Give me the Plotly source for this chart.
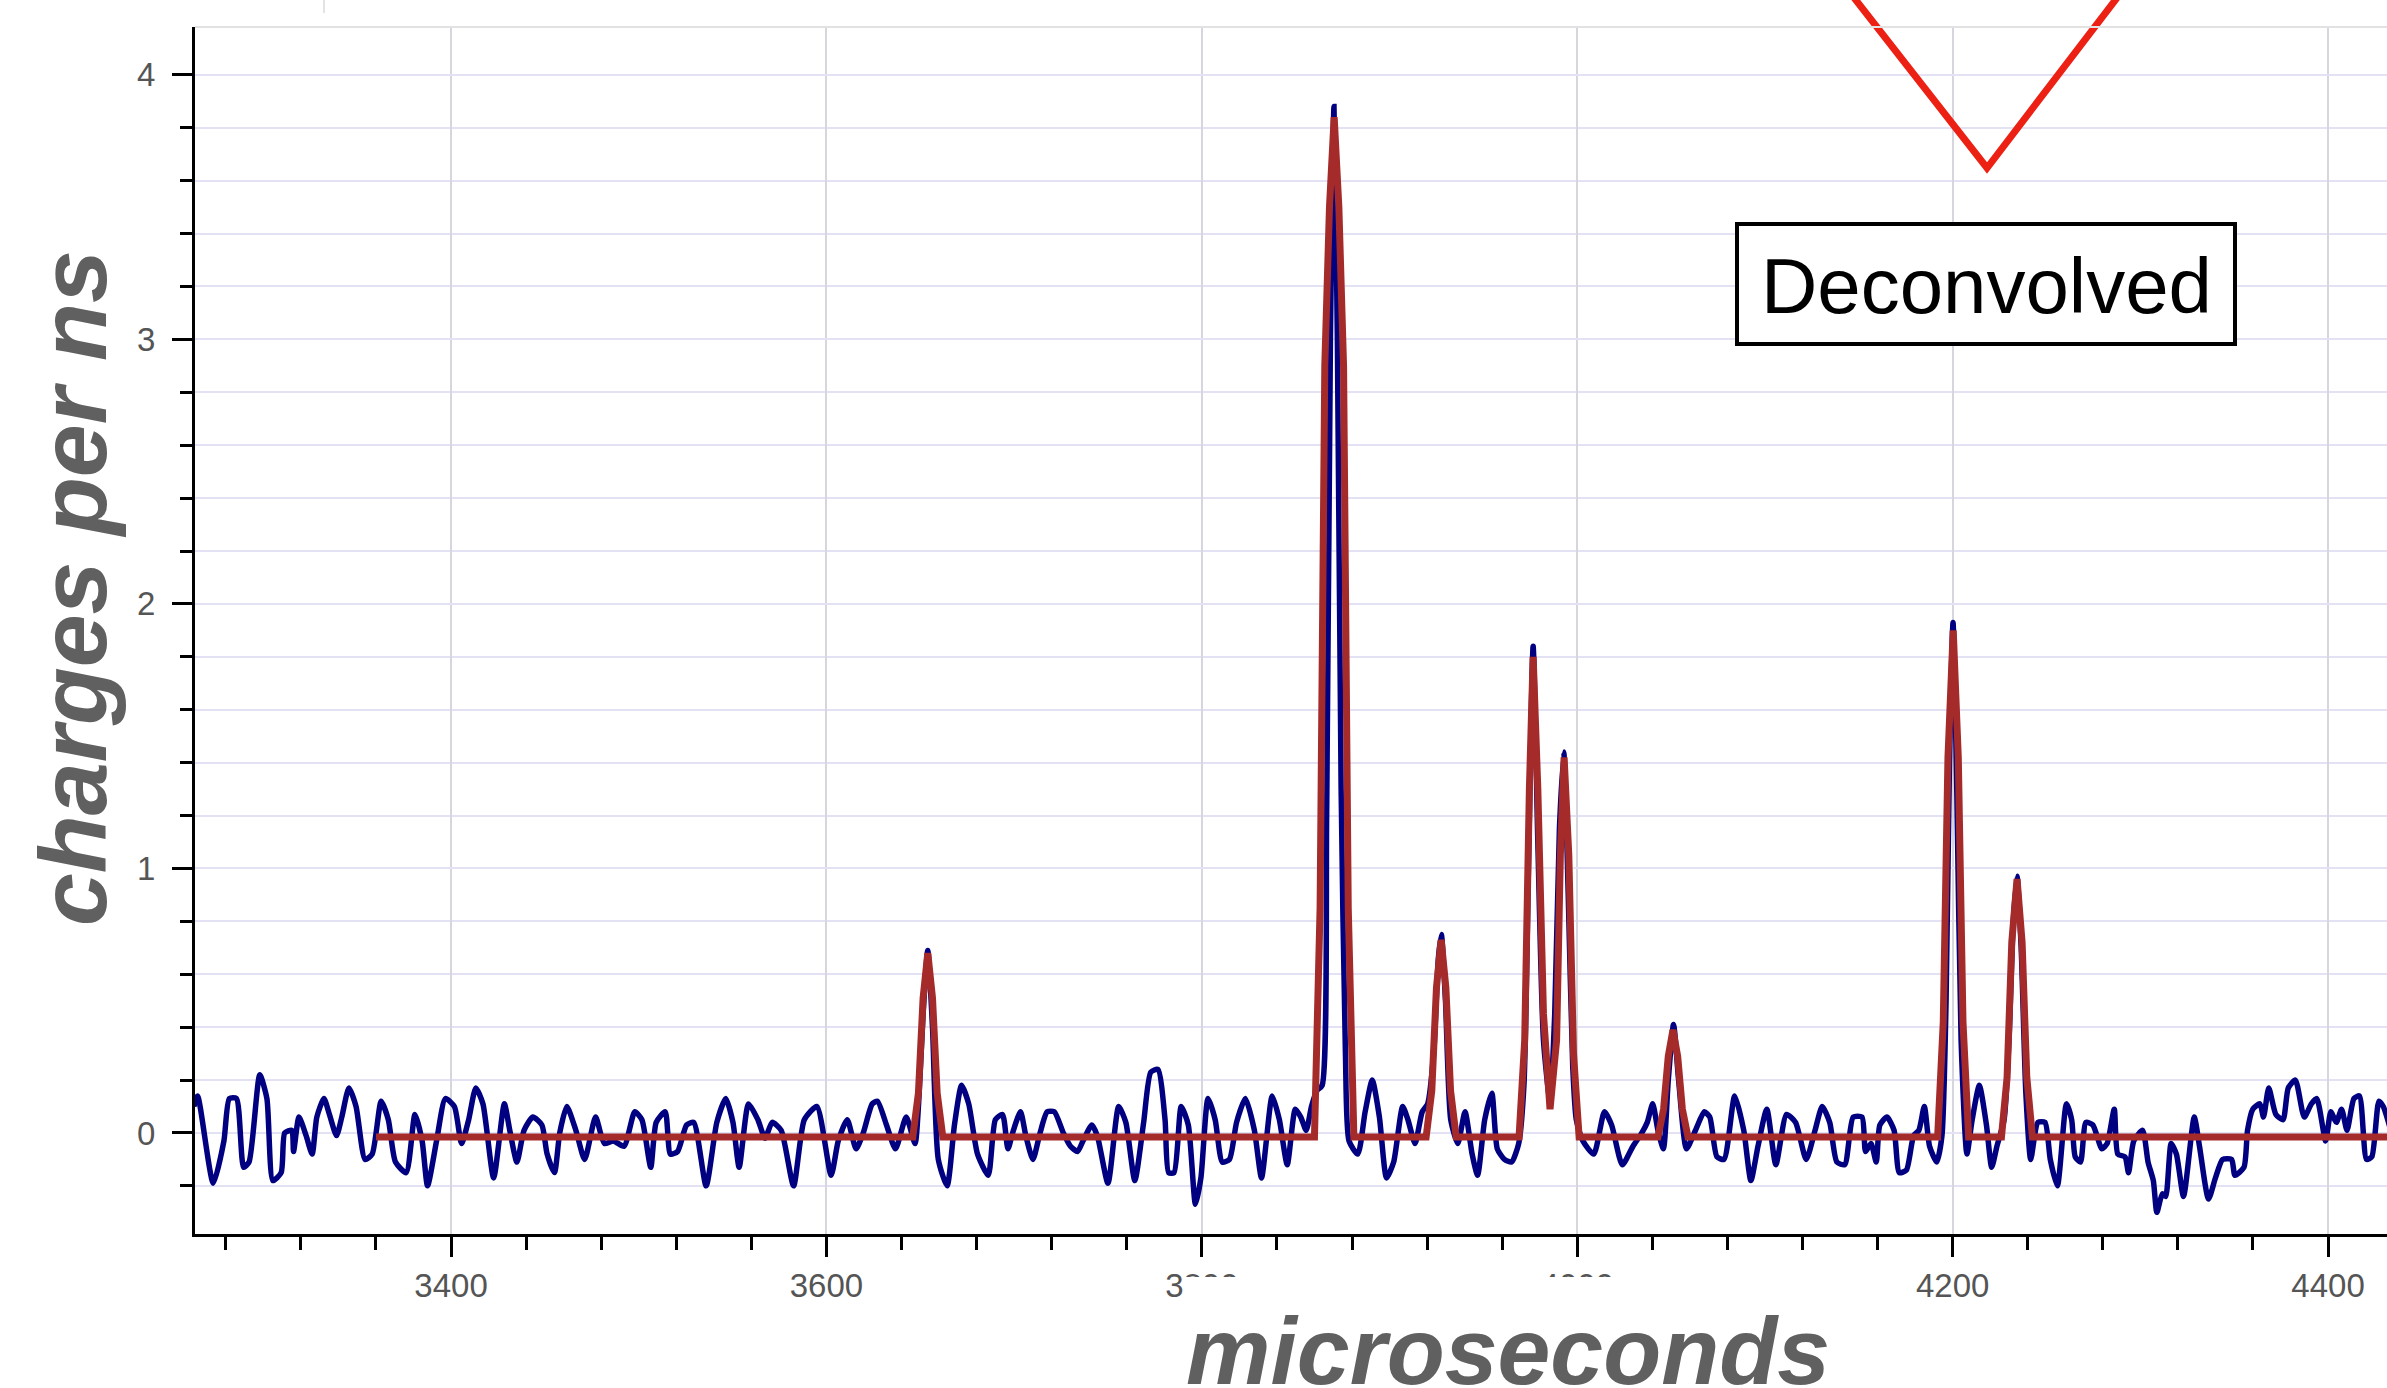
import plotly.graph_objects as go

# ---------------- data ----------------
blue_x = [3263.0, 3265.0, 3273.3, 3279.0, 3281.9, 3285.7, 3289.5, 3292.4, 3298.1, 3301.9,
          3305.1, 3309.5, 3311.4, 3315.2, 3316.1, 3319.0, 3322.8, 3326.0, 3328.5, 3332.3,
          3335.2, 3339.0, 3341.8, 3345.6, 3349.4, 3354.2, 3358.0, 3362.8, 3366.6, 3370.4,
          3376.1, 3380.8, 3384.6, 3387.5, 3392.3, 3397.0, 3401.8, 3405.6, 3409.4, 3413.2,
          3417.0, 3422.7, 3428.4, 3431.3, 3435.1, 3438.9, 3443.6, 3448.4, 3451.2, 3455.1,
          3457.9, 3461.7, 3466.5, 3471.2, 3477.0, 3481.7, 3486.5, 3492.2, 3497.9, 3501.7,
          3506.4, 3509.3, 3514.1, 3516.9, 3520.7, 3525.5, 3529.3, 3535.9, 3541.6, 3546.4,
          3550.2, 3553.5, 3558.5, 3563.5, 3567.3, 3571.1, 3575.9, 3582.5, 3588.2, 3594.9,
          3602.5, 3606.3, 3611.1, 3615.8, 3619.6, 3624.4, 3627.2, 3632.0, 3636.8, 3642.5,
          3647.2, 3649.1, 3651.5, 3654.0, 3656.5, 3659.6, 3664.3, 3668.2, 3672.0, 3675.8,
          3680.5, 3686.2, 3690.0, 3693.8, 3696.7, 3699.6, 3703.4, 3706.2, 3710.0, 3713.8,
          3717.6, 3721.4, 3726.2, 3730.0, 3733.8, 3736.7, 3741.4, 3744.3, 3750.0, 3755.7,
          3759.5, 3764.3, 3769.0, 3772.8, 3776.6, 3780.4, 3782.3, 3785.2, 3789.0, 3792.8,
          3796.6, 3799.5, 3803.3, 3807.1, 3810.9, 3814.7, 3818.5, 3823.2, 3828.0, 3831.8,
          3837.5, 3841.3, 3845.5, 3849.8, 3852.7, 3855.6, 3858.4, 3861.3, 3864.1, 3866.5,
          3868.5, 3870.4, 3872.2, 3874.2, 3876.5, 3878.4, 3883.1, 3887.0, 3890.8, 3894.6,
          3898.4, 3902.2, 3907.0, 3909.8, 3913.6, 3917.4, 3920.3, 3923.5, 3926.0, 3927.6,
          3929.8, 3932.6, 3936.4, 3940.2, 3944.0, 3946.9, 3950.7, 3954.5, 3957.4, 3961.2,
          3965.0, 3968.8, 3971.6, 3974.0, 3976.5, 3979.0, 3982.0, 3985.5, 3988.0, 3990.5,
          3992.8, 3995.2, 3997.6, 3999.5, 4003.0, 4008.8, 4014.5, 4018.3, 4024.0, 4029.7,
          4034.4, 4037.3, 4040.2, 4043.0, 4045.9, 4048.5, 4051.3, 4054.0, 4058.2, 4063.0,
          4067.7, 4070.6, 4074.4, 4078.2, 4083.9, 4088.7, 4092.5, 4096.3, 4101.0, 4105.8,
          4111.5, 4116.3, 4122.0, 4126.7, 4130.5, 4134.5, 4138.3, 4142.5, 4147.0, 4151.7,
          4153.6, 4156.5, 4159.3, 4161.2, 4165.0, 4168.8, 4171.6, 4175.4, 4179.2, 4182.0,
          4184.9, 4187.7, 4191.5, 4194.3, 4196.5, 4198.3, 4200.2, 4202.2, 4204.5, 4207.6,
          4210.4, 4214.2, 4218.0, 4220.8, 4223.6, 4227.4, 4230.0, 4232.3, 4234.3, 4236.5,
          4239.0, 4241.6, 4245.4, 4249.2, 4252.0, 4255.8, 4260.6, 4263.4, 4265.3, 4268.1,
          4271.0, 4274.7, 4279.5, 4282.3, 4286.1, 4288.0, 4291.8, 4293.7, 4296.5, 4301.2,
          4304.1, 4306.9, 4308.8, 4311.7, 4313.5, 4316.4, 4319.2, 4323.0, 4328.7, 4331.5,
          4336.3, 4340.0, 4343.8, 4348.6, 4350.4, 4355.2, 4357.1, 4359.9, 4363.7, 4365.6,
          4368.4, 4372.2, 4376.0, 4378.8, 4382.6, 4387.3, 4391.1, 4394.0, 4398.7, 4401.5,
          4404.4, 4407.2, 4410.1, 4413.8, 4416.7, 4420.5, 4423.3, 4427.1, 4429.4, 4433.0]

blue_y = [0.10, 0.14, -0.19, -0.03, 0.13, 0.13, -0.13, -0.11, 0.22, 0.13,
          -0.18, -0.15, 0.00, 0.01, -0.07, 0.06, -0.01, -0.08, 0.06, 0.13,
          0.07, -0.01, 0.06, 0.17, 0.10, -0.10, -0.08, 0.12, 0.05, -0.11,
          -0.15, 0.07, -0.03, -0.20, -0.03, 0.13, 0.10, -0.04, 0.05, 0.17,
          0.11, -0.17, 0.11, 0.01, -0.11, 0.01, 0.06, 0.03, -0.08, -0.15,
          0.00, 0.10, 0.01, -0.10, 0.06, -0.04, -0.03, -0.05, 0.08, 0.05,
          -0.13, 0.04, 0.08, -0.08, -0.07, 0.03, 0.04, -0.20, 0.04, 0.13,
          0.04, -0.13, 0.11, 0.05, -0.02, 0.04, 0.01, -0.20, 0.05, 0.10,
          -0.16, -0.03, 0.05, -0.06, 0.00, 0.11, 0.12, 0.03, -0.06, 0.06,
          -0.04, 0.11, 0.45, 0.69, 0.40, -0.10, -0.20, 0.03, 0.18, 0.11,
          -0.08, -0.16, 0.05, 0.07, -0.06, 0.01, 0.08, -0.01, -0.10, 0.00,
          0.08, 0.08, 0.00, -0.05, -0.07, -0.03, 0.03, -0.01, -0.19, 0.10,
          0.04, -0.18, 0.04, 0.23, 0.24, 0.05, -0.15, -0.15, 0.10, 0.03,
          -0.27, -0.17, 0.13, 0.05, -0.11, -0.10, 0.04, 0.13, 0.01, -0.17,
          0.14, 0.05, -0.12, 0.09, 0.06, 0.01, 0.10, 0.16, 0.18, 1.20,
          3.00, 3.88, 3.00, 1.30, 0.30, -0.03, -0.08, 0.08, 0.20, 0.06,
          -0.17, -0.11, 0.10, 0.05, -0.04, 0.08, 0.11, 0.30, 0.66, 0.75,
          0.50, 0.05, -0.04, 0.08, -0.08, -0.16, 0.05, 0.15, -0.06, -0.10,
          -0.11, -0.04, 0.18, 1.00, 1.84, 1.10, 0.35, 0.12, 0.45, 1.15,
          1.44, 0.90, 0.25, 0.05, -0.03, -0.08, 0.08, 0.03, -0.12, -0.05,
          0.00, 0.04, 0.11, 0.01, -0.06, 0.20, 0.41, 0.20, -0.06, 0.01,
          0.08, 0.06, -0.09, -0.10, 0.14, 0.01, -0.18, -0.05, 0.09, -0.12,
          0.07, 0.04, -0.10, 0.01, 0.10, 0.04, -0.11, -0.12, 0.06, 0.06,
          -0.07, -0.04, -0.11, 0.03, 0.06, 0.01, -0.15, -0.14, -0.01, 0.01,
          0.10, -0.05, -0.11, -0.01, 0.50, 1.40, 1.93, 1.30, 0.35, -0.08,
          0.05, 0.18, 0.03, -0.13, -0.05, 0.05, 0.35, 0.80, 0.97, 0.70,
          0.15, -0.10, 0.04, 0.04, -0.10, -0.20, 0.11, 0.05, -0.09, -0.11,
          0.04, 0.03, -0.06, -0.04, 0.09, -0.08, -0.09, -0.15, -0.03, 0.01,
          -0.11, -0.18, -0.30, -0.23, -0.24, -0.04, -0.08, -0.24, 0.06, -0.05,
          -0.25, -0.17, -0.10, -0.10, -0.16, -0.13, 0.01, 0.09, 0.11, 0.06,
          0.17, 0.07, 0.05, 0.17, 0.20, 0.06, 0.11, 0.13, -0.03, 0.08,
          0.04, 0.09, 0.01, 0.13, 0.14, -0.10, -0.09, 0.12, 0.10, 0.02]

red_x = [3360.0, 3646.0, 3649.0, 3651.5, 3654.0, 3656.5, 3659.0, 3662.0,
         3860.0, 3863.0, 3865.5, 3868.0, 3870.5, 3873.0, 3875.5, 3878.0, 3881.0,
         3919.5, 3922.5, 3925.0, 3927.5, 3930.0, 3932.5, 3935.5,
         3969.0, 3972.0, 3974.5, 3976.5, 3979.0, 3982.0, 3985.5, 3989.0, 3991.0,
         3993.0, 3995.5, 3998.0, 4001.0,
         4043.0, 4046.0, 4048.5, 4051.0, 4053.5, 4056.0, 4059.0,
         4192.0, 4195.0, 4197.5, 4200.3, 4203.0, 4205.5, 4208.5,
         4226.0, 4229.0, 4231.5, 4234.3, 4237.0, 4239.5, 4242.5, 4440.0]
red_y = [-0.015, -0.015, 0.15, 0.51, 0.68, 0.51, 0.15, -0.015,
         -0.015, 0.85, 2.90, 3.50, 3.84, 3.50, 2.90, 0.85, -0.015,
         -0.015, 0.16, 0.55, 0.73, 0.55, 0.16, -0.015,
         -0.015, 0.35, 1.30, 1.80, 1.30, 0.45, 0.09, 0.35, 1.05,
         1.42, 1.05, 0.30, -0.015,
         -0.015, 0.09, 0.29, 0.39, 0.29, 0.09, -0.015,
         -0.015, 0.42, 1.42, 1.90, 1.42, 0.42, -0.015,
         -0.015, 0.21, 0.72, 0.96, 0.72, 0.21, -0.015, -0.015]

x_title = "microseconds"
y_title = "charges per ns"
box_label = "Deconvolved"

# ---------------- layout geometry (pixels) ----------------
W, H = 2387, 1388
L, T, B_PIX = 195, 27, 1234


def px(x):
    return (x - L) / (W - L)


def py(y):
    return (B_PIX - y) / (B_PIX - T)


fig = go.Figure()
fig.add_trace(go.Scatter(x=blue_x, y=blue_y, mode="lines",
                         line=dict(color="#000080", width=5.5, shape="spline", smoothing=0.6),
                         showlegend=False, hoverinfo="skip"))
fig.add_trace(go.Scatter(x=red_x, y=red_y, mode="lines",
                         line=dict(color="#a52a2a", width=7),
                         showlegend=False, hoverinfo="skip"))

tickfont = dict(family="Liberation Sans, Arial, sans-serif", size=33, color="#555555")

fig.update_layout(
    width=W, height=H,
    margin=dict(l=L, r=0, t=T, b=H - B_PIX, autoexpand=False),
    paper_bgcolor="white", plot_bgcolor="white",
    xaxis=dict(range=[3263.6, 4431.4], dtick=200, tick0=3400,
               showline=True, linecolor="black", linewidth=3,
               ticks="outside", ticklen=20, tickwidth=3, tickcolor="black",
               tickfont=tickfont, showgrid=True, gridcolor="#d6d6de", gridwidth=1.5,
               zeroline=False,
               minor=dict(dtick=40, tick0=3400, ticks="outside", ticklen=13,
                          tickwidth=2.5, tickcolor="black", showgrid=False)),
    yaxis=dict(range=[-0.382, 4.181], dtick=1, tick0=0,
               showline=True, linecolor="black", linewidth=3,
               ticks="outside", ticklen=20, tickwidth=3, tickcolor="black",
               tickfont=tickfont, ticklabelstandoff=10,
               showgrid=True, gridcolor="#e2e2f4", gridwidth=2, zeroline=False,
               minor=dict(dtick=0.2, tick0=0, ticks="outside", ticklen=12,
                          tickwidth=2.5, tickcolor="black", showgrid=True,
                          gridcolor="#e2e2f4", gridwidth=2)),
)

title_font = dict(family="Liberation Sans, Arial, sans-serif", size=95, color="#606060",
                  weight="bold", style="italic")

fig.add_annotation(text=y_title, textangle=-90, xref="paper", yref="paper",
                   x=px(73), y=py(588), xanchor="center", yanchor="middle",
                   showarrow=False, font=title_font)

# white label backdrop of the x title (it hides the top of two tick labels)
fig.add_shape(type="rect", xref="paper", yref="paper",
              x0=px(1183), x1=px(1835), y0=py(1320), y1=py(1277),
              line=dict(width=0), fillcolor="white", layer="above")
fig.add_annotation(text=x_title, xref="paper", yref="paper",
                   x=px(1508), y=py(1297), xanchor="center", yanchor="top",
                   showarrow=False, font=title_font, bgcolor="white", borderpad=0)

# Deconvolved box
fig.add_shape(type="rect", xref="paper", yref="paper",
              x0=px(1737), x1=px(2235), y0=py(344), y1=py(224),
              line=dict(color="black", width=4), fillcolor="white", layer="above")
fig.add_annotation(text=box_label, xref="paper", yref="paper",
                   x=px(1986), y=py(286), xanchor="center", yanchor="middle",
                   showarrow=False,
                   font=dict(family="Liberation Sans, Arial, sans-serif", size=78, color="black"))

# red V marker
fig.add_shape(type="path", xref="paper", yref="paper",
              path=f"M {px(1848)} {py(-10)} L {px(1987)} {py(168)} L {px(2123)} {py(-10)}",
              line=dict(color="#ec2114", width=7), layer="above")

# top border of the plot area and small tick at very top
fig.add_shape(type="line", xref="paper", yref="paper", x0=0, x1=1, y0=1, y1=1,
              line=dict(color="#e2e2e2", width=2))
fig.add_shape(type="line", xref="paper", yref="paper", x0=px(324), x1=px(324),
              y0=py(0), y1=py(13), line=dict(color="#c8c8c8", width=1))

fig.write_html("out.html")
